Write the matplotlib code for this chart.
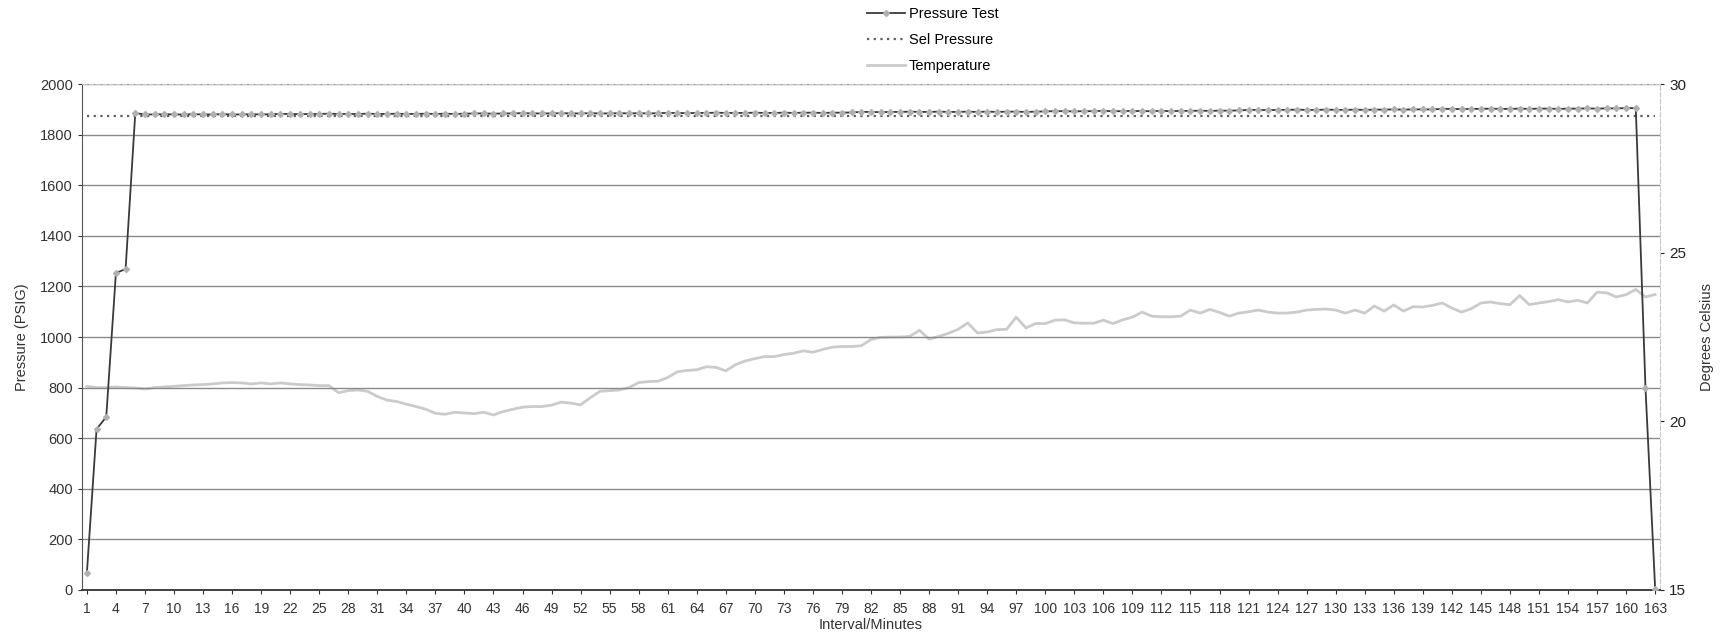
import matplotlib.pyplot as plt

plt.rcParams['font.family'] = ['Liberation Sans', 'DejaVu Sans']

# Interval / minutes 1..163
minutes = list(range(1, 164))

# Pressure test readings (PSIG)
pressure_test = [
    67, 636, 684, 1253, 1269, 1885, 1880, 1880, 1881, 1880,
    1880, 1881, 1880, 1880, 1881, 1880, 1880, 1881, 1880, 1881,
    1882, 1882, 1881, 1882, 1882, 1883, 1882, 1882, 1882, 1883,
    1882, 1882, 1883, 1882, 1882, 1883, 1882, 1883, 1882, 1883,
    1884, 1884, 1883, 1884, 1884, 1885, 1884, 1884, 1884, 1885,
    1884, 1884, 1885, 1884, 1884, 1885, 1884, 1885, 1884, 1885,
    1886, 1886, 1885, 1886, 1886, 1887, 1886, 1886, 1886, 1887,
    1886, 1886, 1887, 1886, 1887, 1887, 1886, 1887, 1887, 1888,
    1890, 1890, 1889, 1890, 1890, 1891, 1890, 1890, 1891, 1890,
    1890, 1891, 1890, 1891, 1890, 1891, 1891, 1890, 1891, 1892,
    1893, 1893, 1892, 1893, 1893, 1894, 1893, 1893, 1894, 1893,
    1893, 1894, 1893, 1894, 1894, 1895, 1894, 1895, 1895, 1896,
    1898, 1898, 1897, 1898, 1898, 1899, 1898, 1898, 1899, 1898,
    1898, 1899, 1898, 1899, 1899, 1900, 1899, 1900, 1900, 1900,
    1902, 1902, 1901, 1902, 1902, 1903, 1902, 1902, 1903, 1902,
    1903, 1903, 1902, 1903, 1903, 1904, 1903, 1904, 1904, 1905,
    1905, 800, 5,
]

# Set pressure (PSIG)
set_pressure = [1875] * 163

# Temperature (degrees Celsius)
temperature = [
    21.04, 21.00, 21.00, 21.02, 21.00, 20.99, 20.96, 21.00, 21.02, 21.04,
    21.06, 21.08, 21.09, 21.11, 21.14, 21.15, 21.14, 21.11, 21.14, 21.11,
    21.14, 21.11, 21.09, 21.08, 21.06, 21.06, 20.85, 20.91, 20.93, 20.89,
    20.74, 20.63, 20.59, 20.51, 20.44, 20.36, 20.24, 20.21, 20.27, 20.25,
    20.23, 20.27, 20.19, 20.29, 20.36, 20.42, 20.44, 20.44, 20.48, 20.57,
    20.54, 20.49, 20.70, 20.89, 20.91, 20.93, 21.00, 21.15, 21.18, 21.19,
    21.30, 21.47, 21.51, 21.53, 21.62, 21.60, 21.50, 21.68, 21.79, 21.86,
    21.92, 21.92, 21.98, 22.02, 22.09, 22.05, 22.13, 22.20, 22.22, 22.22,
    22.24, 22.43, 22.49, 22.50, 22.50, 22.52, 22.70, 22.44, 22.52, 22.61,
    22.73, 22.92, 22.62, 22.65, 22.72, 22.73, 23.09, 22.77, 22.90, 22.90,
    23.00, 23.01, 22.92, 22.91, 22.91, 23.00, 22.90, 23.01, 23.09, 23.24,
    23.12, 23.10, 23.10, 23.12, 23.30, 23.21, 23.32, 23.23, 23.12, 23.21,
    23.25, 23.30, 23.24, 23.21, 23.21, 23.24, 23.30, 23.32, 23.33, 23.30,
    23.21, 23.30, 23.21, 23.42, 23.27, 23.45, 23.27, 23.40, 23.39, 23.44,
    23.51, 23.36, 23.24, 23.34, 23.51, 23.54, 23.49, 23.46, 23.73, 23.46,
    23.51, 23.55, 23.61, 23.54, 23.59, 23.51, 23.83, 23.81, 23.69, 23.76,
    23.91, 23.69, 23.76,
]

xtick_labels = minutes[::3]

fig = plt.figure(figsize=(17.27, 6.42), dpi=100)
ax = fig.add_axes([0.0475, 0.081, 0.9137, 0.788])

# primary axis: pressure
for y in range(200, 2001, 200):
    ax.axhline(y, color='#8a8a8a', lw=1.0, zorder=0)

l_test, = ax.plot(minutes, pressure_test, color='#3a3a3a', lw=1.3,
                  marker='D', markersize=3, markerfacecolor='#b0b0b0',
                  markeredgecolor='#b0b0b0', label='Pressure Test', zorder=3)
l_set, = ax.plot(minutes, set_pressure, color='#5e5e5e', lw=1.6,
                 linestyle=(0, (1, 2)), label='Sel Pressure', zorder=2)

ax.set_xlim(0.5, 163.5)
ax.set_ylim(0, 2000)
ax.set_yticks(range(0, 2001, 200))
ax.set_xticks(xtick_labels)
ax.set_xticklabels([str(m) for m in xtick_labels])
ax.tick_params(axis='y', labelsize=10.5, colors='#333333', length=3)
ax.tick_params(axis='x', labelsize=10, colors='#333333', length=3, pad=6)
ax.set_xlabel('Interval/Minutes', fontsize=10.5, color='#333333', labelpad=1)
ax.set_ylabel('Pressure (PSIG)', fontsize=10.5, color='#333333', labelpad=8)

ax.spines['left'].set_color('#555555')
ax.spines['bottom'].set_color('#333333')
ax.spines['bottom'].set_linewidth(1.3)
ax.spines['top'].set_color('#c8c8c8')
ax.spines['top'].set_linestyle((0, (4, 2)))
ax.spines['right'].set_color('#c8c8c8')
ax.spines['right'].set_linestyle((0, (4, 2)))

# secondary axis: temperature
ax2 = ax.twinx()
l_temp, = ax2.plot(minutes, temperature, color='#cbcbcb', lw=2.0,
                   label='Temperature', zorder=1)
ax2.set_ylim(15, 30)
ax2.set_yticks([15, 20, 25, 30])
ax2.tick_params(axis='y', labelsize=11, colors='#222222', length=3)
ax2.set_ylabel('Degrees Celsius', fontsize=10.5, color='#333333', labelpad=10)
for s in ax2.spines.values():
    s.set_visible(False)

ax.set_zorder(ax2.get_zorder() + 1)
ax.patch.set_visible(False)

fig.legend(handles=[l_test, l_set, l_temp], loc='upper center',
           bbox_to_anchor=(0.54, 1.01), ncol=1, frameon=False,
           fontsize=10.5, handlelength=2.6, labelspacing=0.85,
           handletextpad=0.3)

fig.savefig('out.png', dpi=100)
